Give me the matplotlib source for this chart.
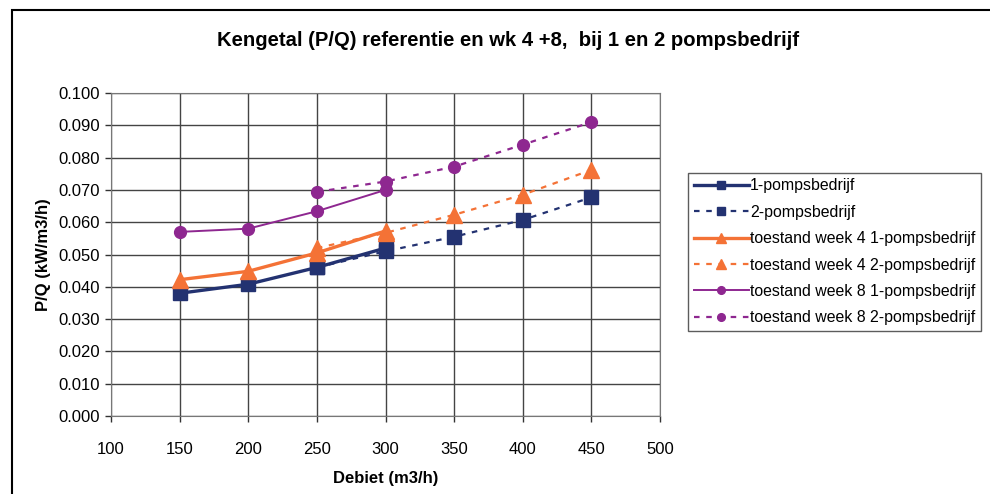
import matplotlib.pyplot as plt
from matplotlib.patches import Rectangle

plt.rcParams['font.family'] = ['Liberation Sans', 'DejaVu Sans']

# debiet (m3/h)
q_1pomp = [150, 200, 250, 300]
q_2pomp = [250, 300, 350, 400, 450]

# kengetal P/Q (kW/m3/h)
ref_1pomp = [0.0380, 0.0408, 0.0460, 0.0520]
ref_2pomp = [0.0460, 0.0510, 0.0555, 0.0607, 0.0677]
wk4_1pomp = [0.0422, 0.0448, 0.0505, 0.0573]
wk4_2pomp = [0.0520, 0.0567, 0.0623, 0.0685, 0.0762]
wk8_1pomp = [0.0570, 0.0580, 0.0634, 0.0700]
wk8_2pomp = [0.0694, 0.0726, 0.0772, 0.0840, 0.0910]

labels = ['1-pompsbedrijf', '2-pompsbedrijf',
          'toestand week 4 1-pompsbedrijf', 'toestand week 4 2-pompsbedrijf',
          'toestand week 8 1-pompsbedrijf', 'toestand week 8 2-pompsbedrijf']

navy = '#233271'
orange = '#F47236'
purple = '#8E2790'

fig = plt.figure(figsize=(9.9, 4.94), dpi=100)
ax = fig.add_axes([0.1121, 0.1579, 0.5546, 0.6538])

dash = (0, (2.5, 3))
ax.plot(q_1pomp, ref_1pomp, color=navy, lw=2.4, marker='s', ms=9.5, label=labels[0], zorder=3)
ax.plot(q_2pomp, ref_2pomp, color=navy, lw=1.6, ls=dash, marker='s', ms=9.5, label=labels[1], zorder=3)
ax.plot(q_1pomp, wk4_1pomp, color=orange, lw=2.4, marker='^', ms=11, label=labels[2], zorder=3)
ax.plot(q_2pomp, wk4_2pomp, color=orange, lw=1.6, ls=dash, marker='^', ms=11, label=labels[3], zorder=3)
ax.plot(q_1pomp, wk8_1pomp, color=purple, lw=1.4, marker='o', ms=8.5, label=labels[4], zorder=3)
ax.plot(q_2pomp, wk8_2pomp, color=purple, lw=1.6, ls=dash, marker='o', ms=8.5, label=labels[5], zorder=3)

ax.set_xlim(100, 500)
ax.set_ylim(0, 0.1)
ax.set_xticks(range(100, 501, 50))
ax.set_yticks([i / 100 for i in range(11)])
ax.set_yticklabels([f'{i / 100:.3f}' for i in range(11)])
ax.grid(True, color='#444444', lw=1)
ax.set_axisbelow(True)
for s in ax.spines.values():
    s.set_color('#777777')
ax.tick_params(direction='out', length=4, width=1, color='#333333', labelsize=12)
ax.tick_params(axis='x', pad=15)
ax.tick_params(axis='y', pad=4)

ax.set_xlabel('Debiet (m3/h)', fontsize=12, fontweight='bold', labelpad=10)
ax.set_ylabel('P/Q (kW/m3/h)', fontsize=12, fontweight='bold', labelpad=5)
fig.text(0.513, 0.919, 'Kengetal (P/Q) referentie en wk 4 +8,  bij 1 en 2 pompsbedrijf',
         ha='center', va='center', fontsize=14.6, fontweight='bold')

leg = fig.legend(loc='upper left', bbox_to_anchor=(0.695, 0.65), fontsize=11.4,
                 frameon=True, fancybox=False, edgecolor='#333333', numpoints=1,
                 markerscale=0.65, handlelength=3.5, handletextpad=0.05,
                 labelspacing=0.72, borderpad=0.35, borderaxespad=0)
leg.get_frame().set_linewidth(1)

fig.patches.append(Rectangle((12 / 990, -0.1), 1.2, 0.1 + 1 - 10 / 494,
                             transform=fig.transFigure, fill=False,
                             edgecolor='black', lw=1.5))

fig.savefig('out.png', dpi=100)
